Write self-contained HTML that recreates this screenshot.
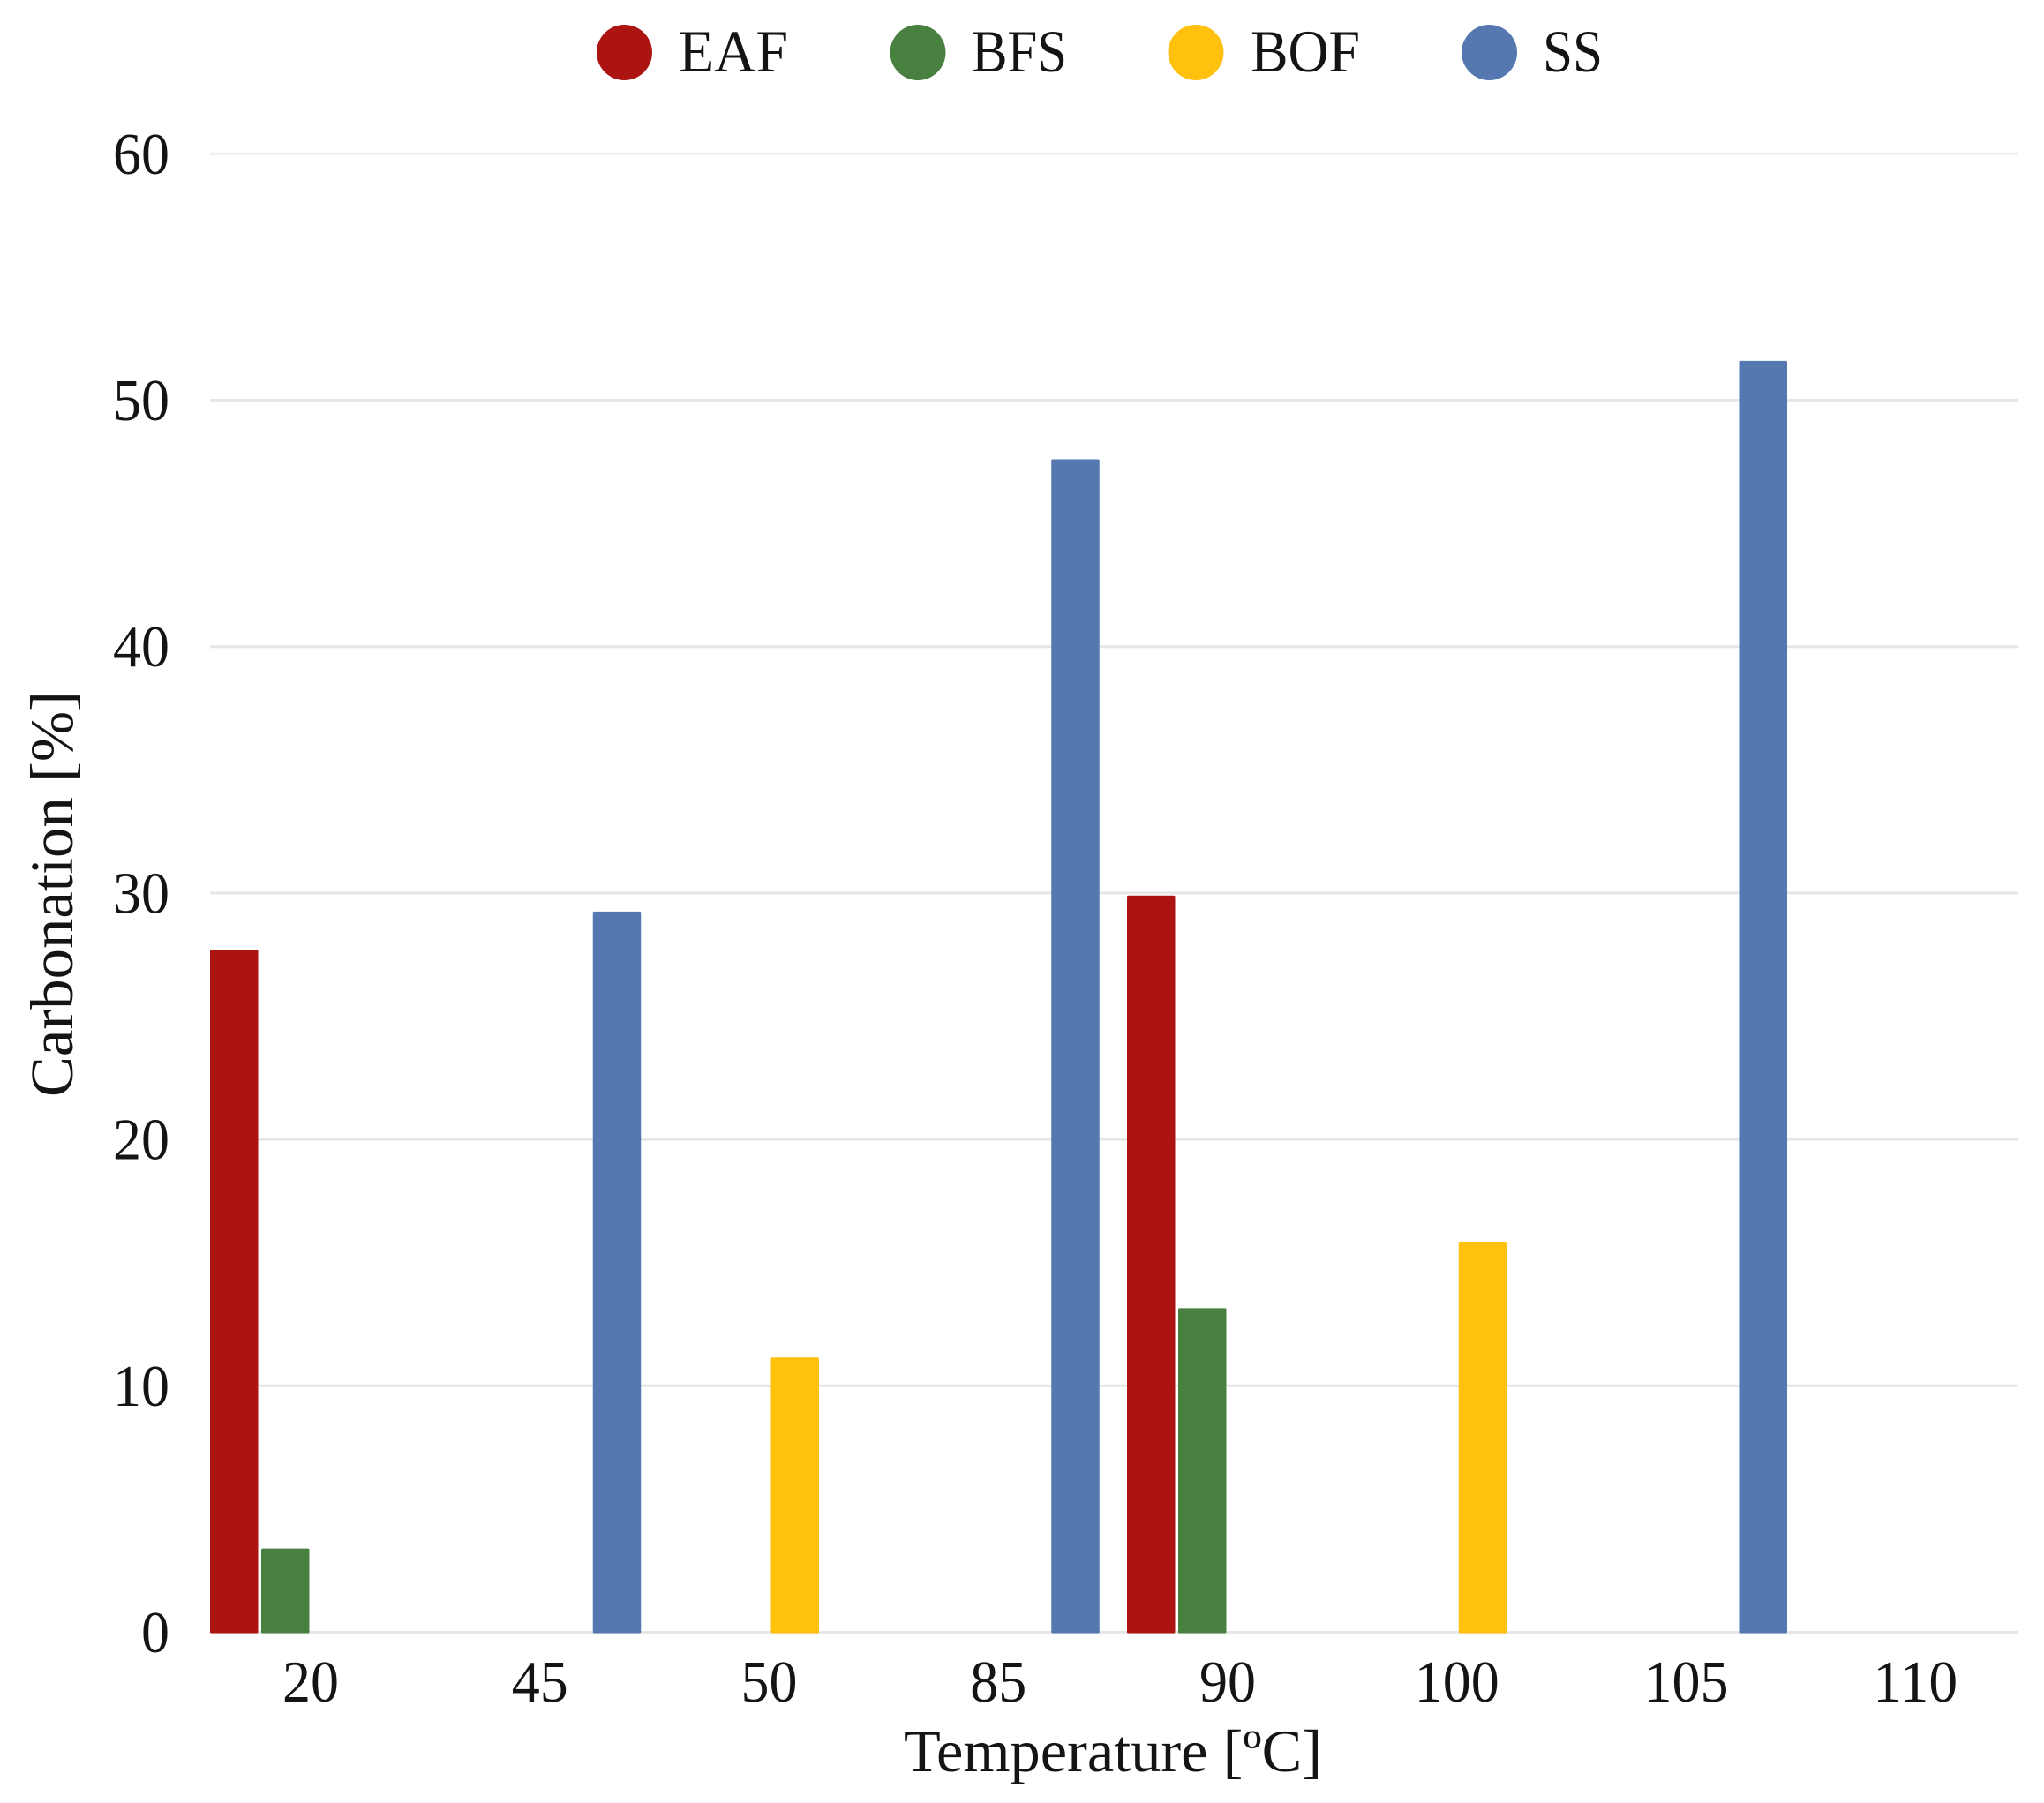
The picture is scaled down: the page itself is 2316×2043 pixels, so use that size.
<!DOCTYPE html>
<html lang="en">
<head>
<meta charset="utf-8">
<title>Carbonation vs Temperature</title>
<style>
  html, body { margin: 0; padding: 0; background: #fff; }
  body { width: 2316px; height: 2043px; overflow: hidden; }
  svg { display: block; }
  text { font-family: "Liberation Serif", "DejaVu Serif", serif; fill: #141414; }
</style>
</head>
<body>
<svg id="chart" xmlns="http://www.w3.org/2000/svg" width="2316" height="2043" viewBox="0 0 2316 2043">
  <rect x="0" y="0" width="2316" height="2043" fill="#ffffff"></rect>
  <g id="grid"></g>
  <g id="bars"></g>
  <g id="y-ticks"></g>
  <g id="x-ticks"></g>
  <g id="legend"></g>
  <text x="1024" y="2007" font-size="68" textLength="474" lengthAdjust="spacingAndGlyphs">Temperature [ºC]</text>
  <text transform="translate(82,1243) rotate(-90)" x="0" y="0" font-size="69" textLength="460" lengthAdjust="spacingAndGlyphs">Carbonation [%]</text>
</svg>
<script>
const categories = ["20", "45", "50", "85", "90", "100", "105", "110"];
const seriesNames = ["EAF", "BFS", "BOF", "SS"];
const eafValues = [27.7, null, null, null, 29.9, null, null, null];
const bfsValues = [3.4, null, null, null, 13.15, null, null, null];
const bofValues = [null, null, 11.15, null, null, 15.85, null, null];
const ssValues = [null, 29.25, null, 47.6, null, null, 51.6, null];
const yTickValues = [0, 10, 20, 30, 40, 50, 60];

const SVG_NS = "http://www.w3.org/2000/svg";
const seriesValues = [eafValues, bfsValues, bofValues, ssValues];
const seriesColors = ["#ab1411", "#47803f", "#ffc00e", "#5578b0"];

const plotLeft = 238;
const plotRight = 2286;
const baselineY = 1849.5;
const unitHeight = 27.92;
const categoryStep = 259.75;
const seriesStep = 58;
const barWidth = 54.5;
const labelOffset = 114;
const digitWidth = 32;

function yScale(value) {
  return baselineY - value * unitHeight;
}
function xBand(categoryIndex) {
  return plotLeft + categoryIndex * categoryStep;
}
function xBar(categoryIndex, seriesIndex) {
  return xBand(categoryIndex) + seriesIndex * seriesStep;
}
function make(tag, attrs) {
  const el = document.createElementNS(SVG_NS, tag);
  Object.keys(attrs).forEach(function (k) { el.setAttribute(k, attrs[k]); });
  return el;
}

const gridGroup = document.getElementById("grid");
const barsGroup = document.getElementById("bars");
const yTicksGroup = document.getElementById("y-ticks");
const xTicksGroup = document.getElementById("x-ticks");
const legendGroup = document.getElementById("legend");

yTickValues.forEach(function (tick) {
  const line = make("line", {
    x1: plotLeft, x2: plotRight, y1: yScale(tick), y2: yScale(tick),
    stroke: tick === 60 ? "#efefef" : "#e6e6e6", "stroke-width": 3
  });
  
  
  gridGroup.appendChild(line);

  const label = make("text", {
    x: 192, y: yScale(tick) + 22.5, "font-size": 67, "text-anchor": "end",
    textLength: String(tick).length * digitWidth, lengthAdjust: "spacingAndGlyphs"
  });
  label.textContent = String(tick);
  
  
  yTicksGroup.appendChild(label);
});

categories.forEach(function (cat, i) {
  const label = make("text", {
    x: xBand(i) + labelOffset, y: 1928, "font-size": 67, "text-anchor": "middle",
    textLength: cat.length * digitWidth, lengthAdjust: "spacingAndGlyphs"
  });
  label.textContent = cat;
  
  
  xTicksGroup.appendChild(label);
});

seriesValues.forEach(function (values, s) {
  values.forEach(function (value, i) {
    if (value === null) return;
    const top = yScale(value);
    const bar = make("rect", {
      x: xBar(i, s), y: top, width: barWidth, height: baselineY + 1 - top,
      rx: 1.5, ry: 1.5, fill: seriesColors[s]
    });
    
    
    barsGroup.appendChild(bar);
  });
});

const legendMarkerX = [707.5, 1040, 1355, 1687.5];
const legendTextX = [769, 1101, 1417, 1748];
const legendTextWidth = [124, 108, 124, 68];
seriesNames.forEach(function (name, s) {
  const entry = make("g", {});
  
  
  const dot = make("circle", { cx: legendMarkerX[s], cy: 59.5, r: 31.5, fill: seriesColors[s] });
  
  
  const txt = make("text", {
    x: legendTextX[s], y: 81, "font-size": 68,
    textLength: legendTextWidth[s], lengthAdjust: "spacingAndGlyphs"
  });
  txt.textContent = name;
  
  
  entry.appendChild(dot);
  entry.appendChild(txt);
  legendGroup.appendChild(entry);
});
</script>
</body>
</html>
